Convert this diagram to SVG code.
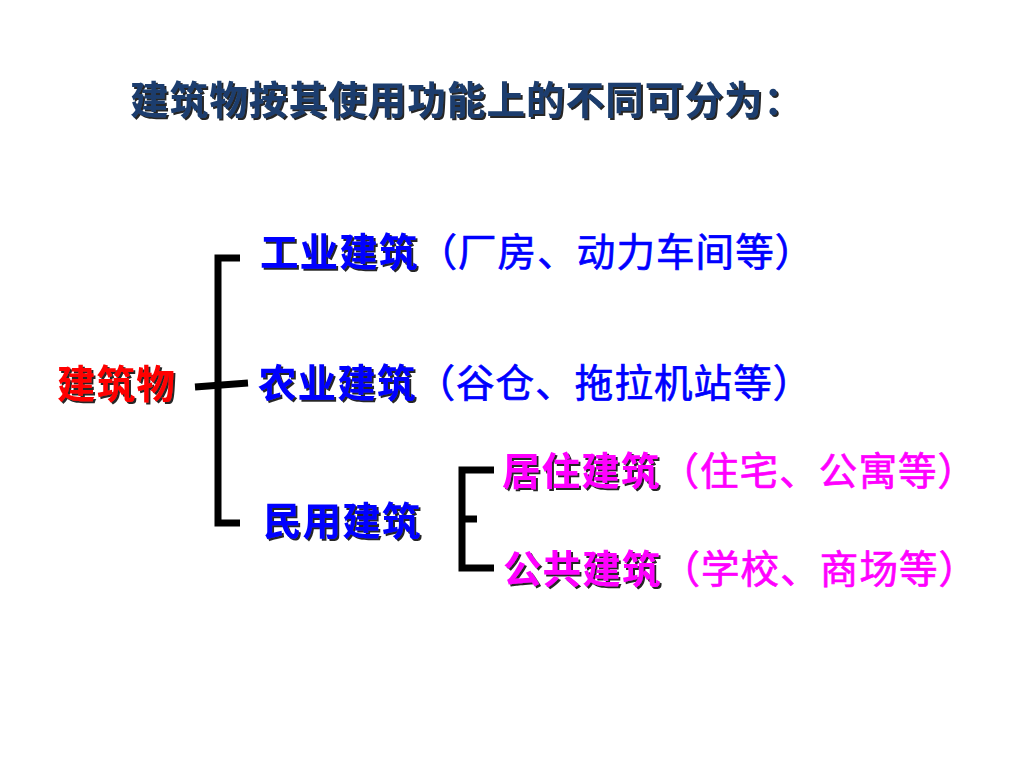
<svg xmlns="http://www.w3.org/2000/svg" width="1024" height="768" viewBox="0 0 1024 768">
  <defs>
    <filter id="shadow" x="-5%" y="-20%" width="110%" height="140%">
      <feDropShadow dx="2" dy="2" stdDeviation="0.3" flood-color="#000000" flood-opacity="0.85"/>
    </filter>
    <style>
      text { font-family: "Noto Sans CJK SC", "Noto Sans", sans-serif; font-size: 38.5px; letter-spacing: 1.1px; }
      .b { font-weight: 700; filter: url(#shadow); }
      .n { font-weight: 400; stroke-width: 0.7px; }
      .title { fill: #1b3d6e; }
      .red { fill: #ff0000; }
      .blue { fill: #0000ff; stroke: #0000ff; stroke-width: 0; }
      .mag { fill: #ff00ff; stroke: #ff00ff; stroke-width: 0; }
      .line { fill: none; stroke: #000000; stroke-width: 7; stroke-linecap: butt; stroke-linejoin: miter; }
    </style>
  </defs>
  <rect width="1024" height="768" fill="#ffffff"/>

  <g id="title">
    <text x="130" y="114" class="title b">建筑物按其使用功能上的不同可分为：</text>
  </g>

  <g id="connectors">
    <path class="line" d="M240,258 H218 V523 H240"/>
    <path class="line" d="M195,387 L248,383"/>
    <path class="line" d="M494,470 H462 V568 H494"/>
    <path class="line" d="M462,519 H477"/>
  </g>

  <g id="node-root">
    <text x="57" y="398" class="red b">建筑物</text>
  </g>
  <g id="node-industrial">
    <text x="260" y="266" class="blue"><tspan class="b">工业建筑</tspan><tspan class="n">（厂房、动力车间等）</tspan></text>
  </g>
  <g id="node-agricultural">
    <text x="258" y="397" class="blue"><tspan class="b">农业建筑</tspan><tspan class="n">（谷仓、拖拉机站等）</tspan></text>
  </g>
  <g id="node-civil">
    <text x="263" y="535" class="blue b">民用建筑</text>
  </g>
  <g id="node-residential">
    <text x="502" y="485" class="mag"><tspan class="b">居住建筑</tspan><tspan class="n">（住宅、公寓等）</tspan></text>
  </g>
  <g id="node-public">
    <text x="503" y="583" class="mag"><tspan class="b">公共建筑</tspan><tspan class="n">（学校、商场等）</tspan></text>
  </g>
</svg>
